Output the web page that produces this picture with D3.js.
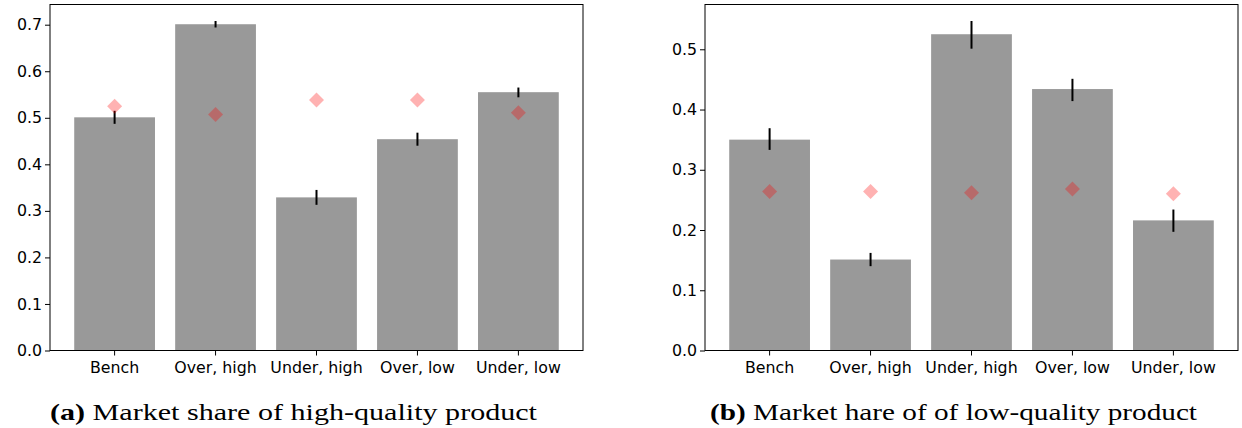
<!DOCTYPE html>
<html>
<head>
<meta charset="utf-8">
<script src="https://cdn.jsdelivr.net/npm/d3@7"></script>
<style>
  html, body { margin: 0; padding: 0; background: #fff; }
  svg { display: block; }
</style>
</head>
<body>
<div id="chart"></div>
<script>
const categories = ["Bench", "Over, high", "Under, high", "Over, low", "Under, low"];

// (a) high-quality product
const highShare = [0.501, 0.701, 0.329, 0.454, 0.555];
const highErrLo = [0.487, 0.694, 0.313, 0.440, 0.544];
const highErrHi = [0.515, 0.708, 0.345, 0.468, 0.565];
const highMarker = [0.525, 0.507, 0.538, 0.538, 0.511];
const highTicks = [0.0, 0.1, 0.2, 0.3, 0.4, 0.5, 0.6, 0.7];

// (b) low-quality product
const lowShare = [0.350, 0.151, 0.525, 0.434, 0.216];
const lowErrLo = [0.333, 0.140, 0.501, 0.414, 0.197];
const lowErrHi = [0.369, 0.162, 0.547, 0.451, 0.234];
const lowMarker = [0.264, 0.264, 0.262, 0.268, 0.260];
const lowTicks = [0.0, 0.1, 0.2, 0.3, 0.4, 0.5];

const W = 1242;
const H = 428;
const BAR_COLOR = "#999999";
const MARKER_COLOR = "rgba(255, 0, 0, 0.3)";
const FONT = "DejaVu Sans";

const svg = d3.select("#chart").append("svg")
  .attr("width", W)
  .attr("height", H);

function drawPanel(opts) {
  const { left, right, top, bottom, values, lo, hi, marker, ticks, caption, label, captionX, captionW } = opts;

  const x = d3.scaleBand()
    .domain(categories)
    .range([left, right])
    .paddingInner(0.2)
    .paddingOuter(0.24);

  const yMax = d3.max(hi) * 1.05;
  const y = d3.scaleLinear().domain([0, yMax]).range([bottom, top]);

  const g = svg.append("g");

  // bars
  g.append("g")
    .selectAll("rect")
    .data(categories)
    .join("rect")
    .attr("x", d => x(d))
    .attr("width", x.bandwidth())
    .attr("y", (d, i) => y(values[i]))
    .attr("height", (d, i) => y(0) - y(values[i]))
    .attr("fill", BAR_COLOR);

  // error bars
  g.append("g")
    .selectAll("line")
    .data(categories)
    .join("line")
    .attr("x1", d => x(d) + x.bandwidth() / 2)
    .attr("x2", d => x(d) + x.bandwidth() / 2)
    .attr("y1", (d, i) => y(lo[i]))
    .attr("y2", (d, i) => y(hi[i]))
    .attr("stroke", "#000")
    .attr("stroke-width", 2);

  // diamonds
  const r = 7.5;
  g.append("g")
    .selectAll("path")
    .data(categories)
    .join("path")
    .attr("d", (d, i) => {
      const cx = x(d) + x.bandwidth() / 2;
      const cy = y(marker[i]);
      return `M${cx},${cy - r}L${cx + r},${cy}L${cx},${cy + r}L${cx - r},${cy}Z`;
    })
    .attr("fill", MARKER_COLOR);

  // axes
  const xAxis = d3.axisBottom(x).tickSize(5).tickPadding(6);
  const gx = g.append("g")
    .attr("transform", `translate(0, ${bottom})`)
    .call(xAxis);
  gx.select(".domain").remove();

  const yAxis = d3.axisLeft(y)
    .tickValues(ticks)
    .tickFormat(d3.format(".1f"))
    .tickSize(5)
    .tickPadding(3);
  const gy = g.append("g")
    .attr("transform", `translate(${left}, 0)`)
    .call(yAxis);
  gy.select(".domain").remove();

  [gx, gy].forEach(a => {
    a.selectAll("text")
      .style("font-family", FONT)
      .style("font-size", "15.8px")
      .attr("fill", "#000");
    a.selectAll("line").attr("stroke", "#000").attr("stroke-width", 1);
  });

  // frame
  g.append("rect")
    .attr("x", left)
    .attr("y", top)
    .attr("width", right - left)
    .attr("height", bottom - top)
    .attr("fill", "none")
    .attr("stroke", "#000")
    .attr("stroke-width", 1);

  // caption
  const t = svg.append("text")
    .attr("x", captionX)
    .attr("y", 420)
    .attr("textLength", captionW)
    .attr("lengthAdjust", "spacingAndGlyphs")
    .style("font-family", "Liberation Serif")
    .style("font-size", "23px")
    .attr("fill", "#000");
  t.append("tspan").style("font-weight", "bold").text(label);
  t.append("tspan").text(" " + caption);
}

drawPanel({
  left: 50, right: 583, top: 4.5, bottom: 350.5,
  values: highShare, lo: highErrLo, hi: highErrHi, marker: highMarker,
  ticks: highTicks,
  label: "(a)", caption: "Market share of high-quality product",
  captionX: 50, captionW: 487
});

drawPanel({
  left: 705, right: 1238, top: 4.5, bottom: 350.5,
  values: lowShare, lo: lowErrLo, hi: lowErrHi, marker: lowMarker,
  ticks: lowTicks,
  label: "(b)", caption: "Market hare of of low-quality product",
  captionX: 710, captionW: 487
});
</script>
</body>
</html>
